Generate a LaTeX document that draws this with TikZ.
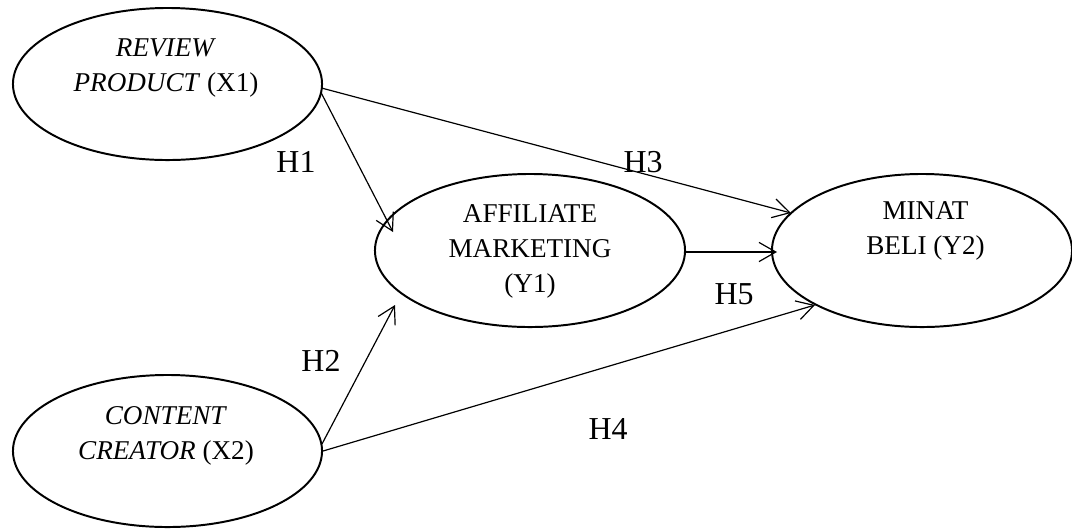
\documentclass[tikz,border=0pt]{standalone}
\usepackage{fontspec}
\setmainfont{Liberation Serif}
\usepackage{tikz}
\usetikzlibrary{
	shapes.geometric,
	arrows.meta,
	positioning,
	calc
}

\begin{document}
\begin{tikzpicture}[
				x=0.025cm, y=-0.025cm,
				latent/.style={
					ellipse, draw, line width=1.4pt,
					inner sep=0pt,
					minimum width=7.75cm, minimum height=3.8cm
				},
				vartext/.style={
					align=center, inner sep=0pt,
					font=\fontsize{19.3}{24.9}\selectfont
				},
				hyp/.style={
					inner sep=0pt,
					font=\fontsize{22.7}{27}\selectfont
				},
				arrow/.style={-{Straight Barb[length=0.42cm, width=0.48cm]}, line width=0.85pt, black}
				]
				\useasboundingbox (0,0) rectangle (1072,529);
				
				% Review product
				\node[latent, minimum width=7.725cm] (X1) at (167.5,84) {};
				\node[vartext] (X1txt) at (166,68) {\textit{REVIEW}\\\textit{PRODUCT} (X1)};
				
				% Content creator
				\node[latent, minimum width=7.725cm] (X2) at (167.5,451) {};
				\node[vartext] (X2txt) at (166,436) {\textit{CONTENT}\\\textit{CREATOR} (X2)};
				
				% Affiliate marketing
				\node[latent, minimum height=3.825cm] (Y1) at (530,250.5) {};
				\node[vartext] (Y1txt) at (530,251) {AFFILIATE\\MARKETING\\(Y1)};
				
				% Minat beli
				\node[latent, minimum width=7.5cm, minimum height=3.825cm] (Y2) at (922,250.5) {};
				\node[vartext] (Y2txt) at (925.5,231) {MINAT\\BELI (Y2)};
				
				% hypothesis labels
				\node[hyp] (h1) at (296,162) {H1};
				\node[hyp] (h3) at (643,162) {H3};
				\node[hyp] (h2) at (321,361) {H2};
				\node[hyp] (h5) at (734,294) {H5};
				\node[hyp] (h4) at (608,429) {H4};
				
				% paths
				\draw[arrow] ($(X1)+(154,9.5)$) -- ($(Y1)+(-137,-18.5)$);
				\draw[arrow] ($(X1)+(154,4)$)   -- ($(Y2)+(-131,-37.5)$);
				\draw[arrow] ($(X2)+(154.5,-7)$) -- ($(Y1)+(-135,54.5)$);
				\draw[arrow] (X2.east)          -- ($(Y2)+(-107,54.5)$);
				\draw[arrow] ($(Y1.east)+(0,1.5)$) -- ($(Y2)+(-145,1.5)$);
			\end{tikzpicture}
\end{document}
